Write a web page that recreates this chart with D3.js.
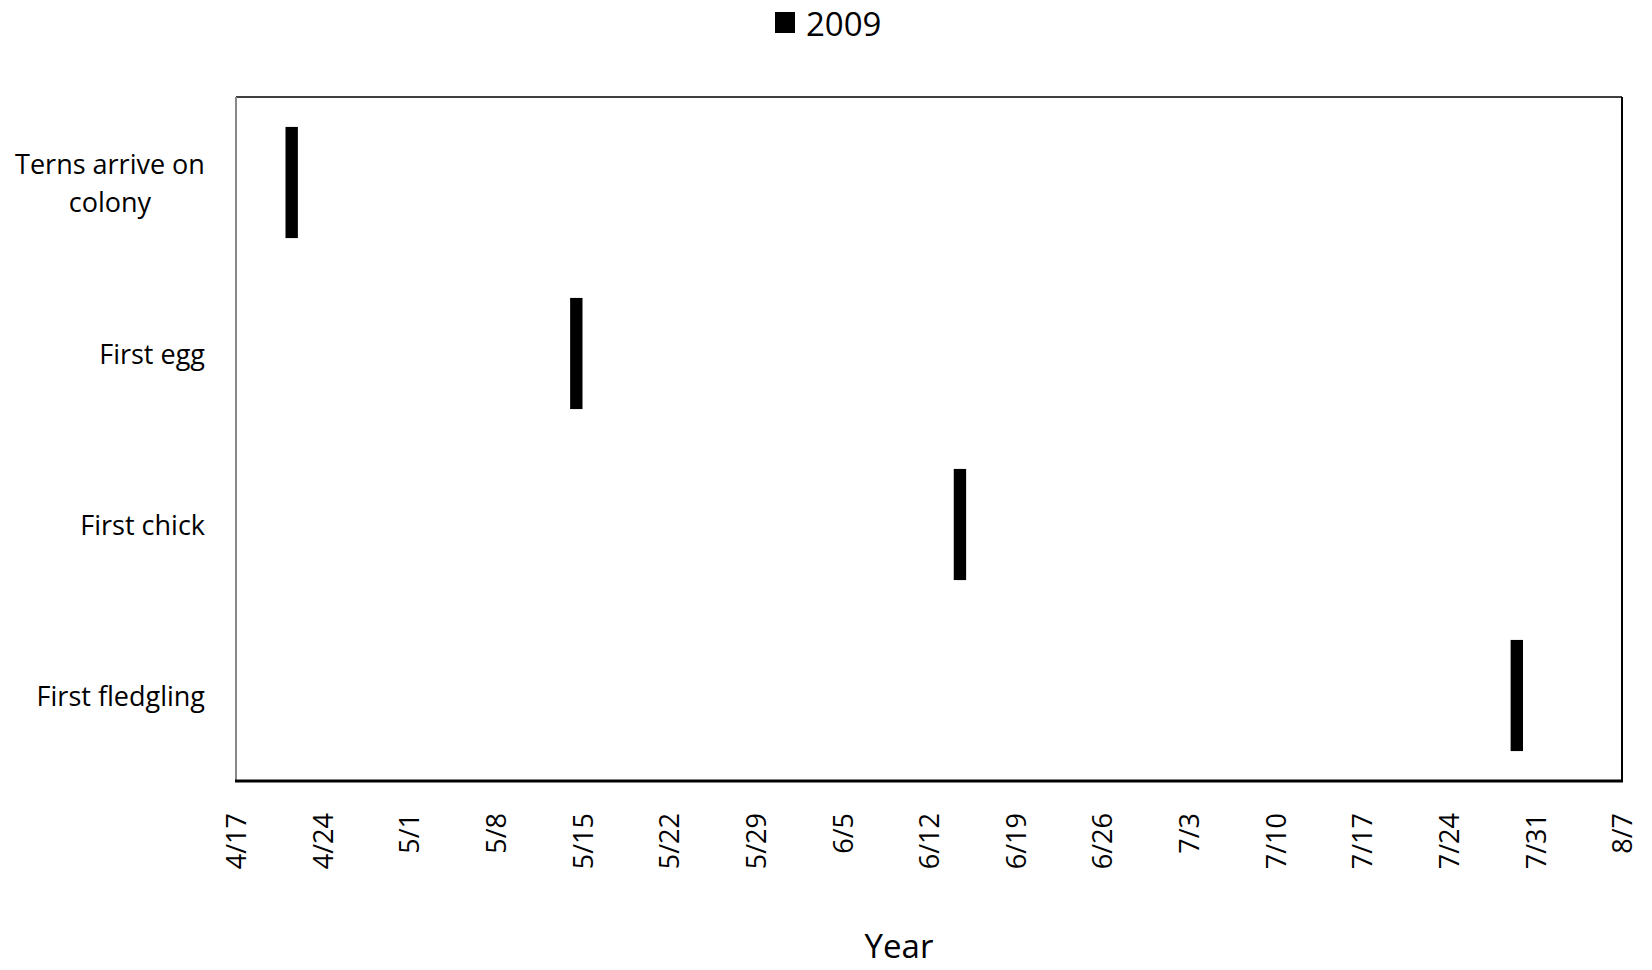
<!DOCTYPE html>
<html>
<head>
<meta charset="utf-8">
<script src="https://cdn.jsdelivr.net/npm/d3@7"></script>
<style>
  html, body { margin: 0; padding: 0; background: #fff; }
  svg { display: block; }
  text { font-family: "Open Sans", "Noto Sans", sans-serif; fill: #000; }
</style>
</head>
<body>
<svg id="chart" width="1652" height="970"></svg>
<script>
// ---- data ----
const seriesName = "2009";
const categories = [["Terns arrive on", "colony"], ["First egg"], ["First chick"], ["First fledgling"]];
const eventDates = ["2009-04-21", "2009-05-14", "2009-06-14", "2009-07-29"];
const tickLabels = ["4/17","4/24","5/1","5/8","5/15","5/22","5/29","6/5","6/12","6/19","6/26","7/3","7/10","7/17","7/24","7/31","8/7"];
const xDomain = ["2009-04-17", "2009-08-07"];
const axisTitle = "Year";

// ---- layout ----
const svg = d3.select("#chart");
const L = 236, R = 1622, T = 97, B = 781;
const parse = d3.utcParse("%Y-%m-%d");
const x = d3.scaleUtc().domain(xDomain.map(parse)).range([L, R]);
const catKeys = categories.map(c => c.join(" "));
const y = d3.scaleBand().domain(catKeys).range([T, B]).paddingInner(0.35).paddingOuter(0.175);

// bars
svg.append("g").selectAll("rect")
  .data(eventDates.map((d, i) => ({ date: parse(d), cat: catKeys[i] })))
  .join("rect")
  .attr("x", d => x(d.date))
  .attr("width", d => x(d3.utcDay.offset(d.date, 1)) - x(d.date))
  .attr("y", d => y(d.cat))
  .attr("height", y.bandwidth())
  .attr("fill", "#000");

// frame
svg.append("line").attr("x1", L).attr("x2", R).attr("y1", T).attr("y2", T).attr("stroke", "#000").attr("stroke-width", 1.5);
svg.append("line").attr("x1", R).attr("x2", R).attr("y1", T).attr("y2", B).attr("stroke", "#000").attr("stroke-width", 2);
svg.append("line").attr("x1", L).attr("x2", L).attr("y1", T).attr("y2", B).attr("stroke", "#888").attr("stroke-width", 2);
svg.append("line").attr("x1", L - 1).attr("x2", R + 1).attr("y1", B).attr("y2", B).attr("stroke", "#000").attr("stroke-width", 3);

// x axis labels
const tickDates = tickLabels.map(t => {
  const [m, d] = t.split("/").map(Number);
  return new Date(Date.UTC(2009, m - 1, d));
});
const xAxis = d3.axisBottom(x).tickValues(tickDates).tickSize(0).tickFormat((d, i) => tickLabels[i]);
const gx = svg.append("g").attr("transform", `translate(0,${B})`).call(xAxis);
gx.select(".domain").remove();
gx.selectAll("text")
  .attr("font-family", "Open Sans")
  .attr("font-size", 27)
  .attr("fill", "#000")
  .attr("transform", "rotate(-90)")
  .attr("text-anchor", "end")
  .attr("x", -32)
  .attr("y", 0)
  .attr("dy", "0.36em");

// y labels
const gy = svg.append("g");
categories.forEach((lines, i) => {
  const cy = y(catKeys[i]) + y.bandwidth() / 2;
  const lh = 38;
  const n = lines.length;
  const t = gy.append("text")
    .attr("font-size", 27)
    .attr("text-anchor", n > 1 ? "middle" : "end");
  lines.forEach((ln, j) => {
    t.append("tspan")
      .attr("x", n > 1 ? 110 : 205)
      .attr("y", cy + 10 + (j - (n - 1) / 2) * lh)
      .text(ln);
  });
});

// axis title
svg.append("text").attr("x", 899).attr("y", 958).attr("text-anchor", "middle").attr("font-size", 33).text(axisTitle);

// legend
svg.append("rect").attr("x", 775).attr("y", 12).attr("width", 20).attr("height", 21).attr("fill", "#000");
svg.append("text").attr("x", 806).attr("y", 36).attr("font-size", 33).text(seriesName);
</script>
</body>
</html>
